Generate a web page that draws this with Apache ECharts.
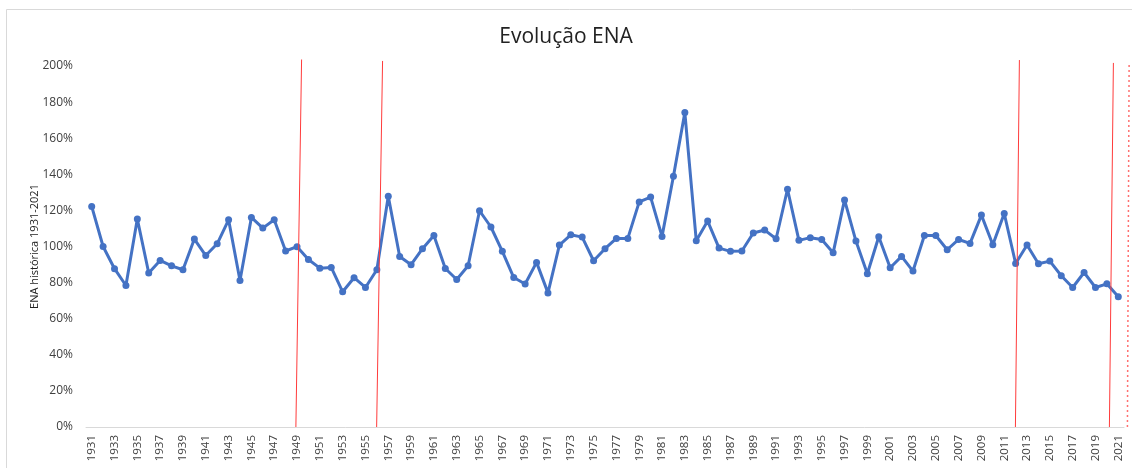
<!DOCTYPE html>
<html>
<head>
<meta charset="utf-8">
<script src="https://cdn.jsdelivr.net/npm/echarts@6/dist/echarts.min.js"></script>
<style>
  html, body { margin: 0; padding: 0; background: #fff; }
  #chart { width: 1132px; height: 468px; }
</style>
</head>
<body>
<div id="chart"></div>
<script>
  // anos 1931-2021
  var years = [];
  for (var y = 1931; y <= 2021; y++) years.push(String(y));

  // ENA histórica (%)
  var enaValues = [
    122.2, 100.0, 87.7, 78.4, 115.2, 85.3, 92.3, 89.3, 87.1, 104.1,
    95.0, 101.5, 114.8, 81.2, 116.1, 110.2, 114.8, 97.5, 99.9, 92.8,
    88.0, 88.4, 74.9, 82.7, 77.3, 87.1, 127.8, 94.5, 89.9, 98.8,
    106.1, 87.8, 81.7, 89.3, 119.8, 110.8, 97.3, 82.8, 79.2, 91.2,
    74.3, 100.8, 106.5, 105.2, 92.1, 98.8, 104.5, 104.5, 124.7, 127.4,
    105.6, 138.9, 174.2, 103.2, 114.1, 99.1, 97.3, 97.5, 107.5, 109.1,
    104.3, 131.7, 103.4, 104.9, 103.9, 96.5, 125.8, 103.0, 84.9, 105.4,
    88.2, 94.5, 86.4, 106.1, 106.1, 98.2, 103.9, 101.7, 117.4, 101.0,
    118.3, 90.6, 100.8, 90.4, 91.9, 83.8, 77.3, 85.6, 77.3, 79.3,
    72.1
  ];

  // linhas vermelhas desenhadas à mão (em anos)
  var markBottomYears = [1948.9, 1955.98, 2011.98, 2020.22];
  var markTopYears = [1949.4, 1956.5, 2012.33, 2020.57];
  var markTopValues = [203.6, 202.8, 203.3, 201.7];
  var dottedBottomYear = 2021.8;
  var dottedTopYear = 2021.95;

  var chart = echarts.init(document.getElementById('chart'));

  // grade 2: mesma escala de anos, mas vai até a borda direita
  var catWidth = (1132 - 86 - 8) / years.length;
  var grid2Max = 1930.5 + (1132 - 86) / catWidth;

  var series = [{
    name: 'ENA',
    type: 'line',
    data: enaValues,
    symbol: 'circle',
    symbolSize: 7,
    color: '#4472C4',
    lineStyle: { width: 3, color: '#4472C4' },
    itemStyle: { color: '#4472C4' },
    z: 3
  }];

  for (var i = 0; i < markBottomYears.length; i++) {
    series.push({
      type: 'line',
      xAxisIndex: 1,
      yAxisIndex: 1,
      data: [[markBottomYears[i], 0], [markTopYears[i], markTopValues[i]]],
      symbol: 'none',
      clip: false,
      silent: true,
      lineStyle: { width: 1, color: '#ff3b3b' },
      z: 4
    });
  }
  series.push({
    type: 'line',
    xAxisIndex: 1,
    yAxisIndex: 1,
    data: [[dottedBottomYear, 0], [dottedTopYear, 202]],
    symbol: 'none',
    clip: false,
    silent: true,
    lineStyle: { width: 1.5, color: '#ff7070', type: [2, 3] },
    z: 4
  });

  var option = {
    animation: false,
    backgroundColor: '#fff',
    graphic: [{
      type: 'rect',
      shape: { x: 6.5, y: 9.5, width: 1140, height: 480 },
      style: { fill: 'none', stroke: '#d9d9d9', lineWidth: 1 },
      silent: true,
      z: -1
    }],
    title: {
      text: 'Evolução ENA',
      left: 'center',
      top: 22,
      textStyle: {
        fontFamily: 'Open Sans',
        fontSize: 21,
        fontWeight: 'normal',
        color: '#222'
      }
    },
    grid: [
      { left: 86, right: 8, top: 66, bottom: 41, containLabel: false },
      { left: 86, right: 0, top: 66, bottom: 41, containLabel: false }
    ],
    xAxis: [{
      type: 'category',
      gridIndex: 0,
      data: years,
      boundaryGap: true,
      axisLine: { lineStyle: { color: '#d9d9d9', width: 1 } },
      axisTick: { show: false },
      axisLabel: {
        rotate: 90,
        interval: 1,
        margin: 8,
        fontFamily: 'Open Sans',
        fontSize: 11.5,
        color: '#404040'
      },
      splitLine: { show: false }
    }, {
      type: 'value',
      gridIndex: 1,
      min: 1930.5,
      max: grid2Max,
      show: false
    }],
    yAxis: [{
      type: 'value',
      gridIndex: 0,
      min: 0,
      max: 200,
      interval: 20,
      name: 'ENA histórica 1931-2021',
      nameLocation: 'middle',
      nameRotate: 90,
      nameGap: 46,
      nameMoveOverlap: false,
      nameTextStyle: { fontFamily: 'Open Sans', fontSize: 11, color: '#222' },
      axisLine: { show: false },
      axisTick: { show: false },
      splitLine: { show: false },
      axisLabel: {
        formatter: '{value}%',
        margin: 13,
        fontFamily: 'Open Sans',
        fontSize: 12,
        color: '#404040'
      }
    }, {
      type: 'value',
      gridIndex: 1,
      min: 0,
      max: 200,
      show: false
    }],
    series: series
  };

  chart.setOption(option);
</script>
</body>
</html>
